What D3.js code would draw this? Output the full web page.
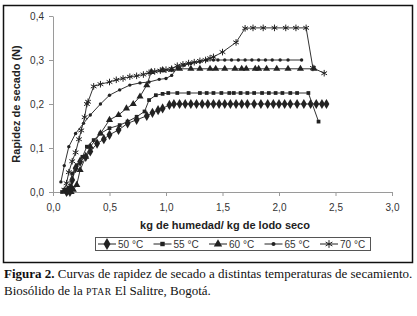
<!DOCTYPE html>
<html><head><meta charset="utf-8">
<script src="https://cdn.jsdelivr.net/npm/d3@7"></script>
<style>
html,body{margin:0;padding:0;background:#fff;}
svg{display:block;}
</style></head>
<body>
<svg id="c" width="417" height="316"></svg>
<script>
// ---- data ----
const xTicks = [0, 0.5, 1.0, 1.5, 2.0, 2.5, 3.0];
const yTicks = [0, 0.1, 0.2, 0.3, 0.4];
const seriesNames = ["50 °C", "55 °C", "60 °C", "65 °C", "70 °C"];
const s50 = [[0.12,0.0],[0.13,0.003],[0.15,0.0],[0.16,0.01],[0.17,0.027],[0.2,0.054],[0.24,0.069],[0.29,0.08],[0.33,0.092],[0.39,0.11],[0.45,0.12],[0.5,0.13],[0.58,0.141],[0.66,0.156],[0.74,0.164],[0.83,0.173],[0.88,0.18],[0.93,0.186],[0.97,0.19],[1.03,0.198],[1.07,0.2],[1.12,0.2],[1.17,0.2],[1.22,0.2],[1.27,0.2],[1.32,0.2],[1.37,0.2],[1.42,0.2],[1.47,0.2],[1.52,0.2],[1.57,0.2],[1.62,0.2],[1.67,0.2],[1.72,0.2],[1.78,0.2],[1.84,0.2],[1.9,0.2],[1.95,0.2],[2.0,0.2],[2.05,0.2],[2.1,0.2],[2.16,0.2],[2.22,0.2],[2.28,0.2],[2.33,0.2],[2.38,0.2],[2.42,0.2]];
const s55 = [[0.08,0.0],[0.1,0.005],[0.12,0.0],[0.14,0.01],[0.17,0.042],[0.21,0.061],[0.26,0.08],[0.3,0.103],[0.36,0.118],[0.42,0.133],[0.5,0.145],[0.59,0.152],[0.66,0.16],[0.74,0.171],[0.81,0.183],[0.85,0.209],[0.91,0.22],[0.97,0.223],[1.02,0.225],[1.1,0.225],[1.2,0.225],[1.3,0.225],[1.36,0.225],[1.42,0.225],[1.49,0.225],[1.56,0.225],[1.6,0.225],[1.66,0.225],[1.72,0.225],[1.78,0.225],[1.85,0.225],[1.91,0.225],[1.97,0.225],[2.03,0.225],[2.1,0.225],[2.16,0.225],[2.26,0.225],[2.35,0.16]];
const s60 = [[0.13,0.0],[0.16,0.0],[0.18,0.005],[0.21,0.016],[0.24,0.05],[0.29,0.08],[0.33,0.103],[0.42,0.133],[0.5,0.164],[0.58,0.175],[0.65,0.19],[0.71,0.2],[0.77,0.217],[0.83,0.243],[0.87,0.273],[0.97,0.277],[1.05,0.278],[1.12,0.28],[1.22,0.28],[1.3,0.28],[1.39,0.28],[1.44,0.28],[1.52,0.28],[1.61,0.28],[1.67,0.28],[1.71,0.28],[1.79,0.28],[1.82,0.28],[1.89,0.28],[1.98,0.28],[2.08,0.28],[2.19,0.28],[2.31,0.28]];
const s65 = [[0.07,0.023],[0.1,0.06],[0.14,0.103],[0.2,0.133],[0.27,0.156],[0.33,0.175],[0.42,0.2],[0.5,0.22],[0.59,0.232],[0.68,0.243],[0.77,0.248],[0.85,0.25],[0.94,0.256],[1.0,0.258],[1.05,0.265],[1.1,0.282],[1.16,0.288],[1.22,0.292],[1.3,0.296],[1.36,0.3],[1.42,0.3],[1.46,0.3],[1.52,0.3],[1.58,0.3],[1.64,0.3],[1.7,0.3],[1.76,0.3],[1.82,0.3],[1.88,0.3],[1.94,0.3],[2.01,0.3],[2.08,0.3],[2.2,0.3]];
const s70 = [[0.1,0.005],[0.12,0.02],[0.14,0.045],[0.17,0.07],[0.2,0.09],[0.23,0.12],[0.25,0.14],[0.28,0.17],[0.3,0.2],[0.31,0.205],[0.36,0.24],[0.42,0.245],[0.5,0.25],[0.56,0.255],[0.62,0.258],[0.68,0.262],[0.74,0.264],[0.8,0.267],[0.85,0.271],[0.9,0.274],[0.95,0.276],[1.0,0.278],[1.05,0.28],[1.1,0.287],[1.15,0.29],[1.2,0.293],[1.25,0.295],[1.3,0.298],[1.35,0.3],[1.39,0.304],[1.42,0.307],[1.5,0.318],[1.62,0.34],[1.7,0.372],[1.77,0.373],[1.86,0.373],[1.96,0.373],[2.06,0.373],[2.15,0.373],[2.24,0.373],[2.3,0.282],[2.4,0.27]];

const series = [s50, s55, s60, s65, s70];
const symbols = [d3.symbolDiamond, d3.symbolSquare, d3.symbolTriangle, d3.symbolCircle, d3.symbolAsterisk];
const symSizes = [30, 14, 22, 9, 30];

const svg = d3.select("#c");
const sans = "'Liberation Sans', Arial, sans-serif";
const serif = "'Liberation Serif', 'Times New Roman', serif";

// frame
svg.append("rect").attr("x",3.5).attr("y",5.5).attr("width",409).attr("height",257)
  .attr("fill","none").attr("stroke","#111").attr("stroke-width",1.5);

const x = d3.scaleLinear().domain([0,3]).range([53,392]);
const y = d3.scaleLinear().domain([0,0.4]).range([192,16]);
const fmt = d => d3.format(".1f")(d).replace(".", ",");

const gx = svg.append("g").attr("transform","translate(0,192)")
  .call(d3.axisBottom(x).tickValues(xTicks).tickFormat(fmt).tickSize(4).tickSizeOuter(0));
const gy = svg.append("g").attr("transform","translate(53,0)")
  .call(d3.axisLeft(y).tickValues(yTicks).tickFormat(fmt).tickSize(4).tickSizeOuter(0));
[gx, gy].forEach(g => {
  g.selectAll("path,line").attr("stroke","#9a9a9a");
  g.selectAll("text").attr("font-family",sans).attr("font-size",10).attr("fill","#333");
});
gx.selectAll("text").attr("dy","1.2em");
gy.selectAll("text").attr("dx","-0.2em");

// axis titles
svg.append("text").attr("x",225).attr("y",229).attr("text-anchor","middle")
  .attr("font-family",sans).attr("font-size",11).attr("font-weight","bold").attr("fill","#222")
  .text("kg de humedad/ kg de lodo seco");
svg.append("text").attr("transform","translate(20,104) rotate(-90)").attr("text-anchor","middle")
  .attr("font-family",sans).attr("font-size",11).attr("font-weight","bold").attr("fill","#222")
  .text("Rapidez de secado (N)");

// series
const line = d3.line().x(d => x(d[0])).y(d => y(d[1]));
series.forEach((s, i) => {
  const g = svg.append("g");
  g.append("path").attr("d", line(s)).attr("fill","none").attr("stroke","#333").attr("stroke-width",1);
  const sym = d3.symbol().type(symbols[i]).size(symSizes[i]);
  g.selectAll("path.m").data(s).join("path").attr("class","m")
    .attr("transform", d => `translate(${x(d[0])},${y(d[1])})`)
    .attr("d", sym)
    .attr("fill", i === 4 ? "none" : "#222")
    .attr("stroke", i === 4 ? "#222" : "none")
    .attr("stroke-width", 1);
});

// legend
svg.append("rect").attr("x",95.5).attr("y",237.5).attr("width",275).attr("height",13)
  .attr("fill","#fff").attr("stroke","#555").attr("stroke-width",1);
const legX = d3.scalePoint().domain(seriesNames).range([98, 320]);
seriesNames.forEach((n, i) => {
  const lx = legX(n);
  const g = svg.append("g").attr("transform",`translate(${lx},244)`);
  g.append("line").attr("x1",0).attr("x2",18).attr("stroke","#222").attr("stroke-width",1);
  g.append("path").attr("transform","translate(9,0)").attr("d", d3.symbol().type(symbols[i]).size(symSizes[i]*1.4))
    .attr("fill", i === 4 ? "none" : "#222").attr("stroke", i === 4 ? "#222" : "none");
  g.append("text").attr("x",20).attr("y",3.5).attr("font-family",sans).attr("font-size",10).attr("fill","#333").text(n);
});

// caption
const cap = svg.append("text").attr("x",4).attr("y",278).attr("font-family",serif).attr("font-size",13).attr("fill","#111");
cap.append("tspan").attr("font-weight","bold").text("Figura 2.");
cap.append("tspan").text(" Curvas de rapidez de secado a distintas temperaturas de secamiento.");
const cap2 = svg.append("text").attr("x",4).attr("y",295).attr("font-family",serif).attr("font-size",13).attr("fill","#111");
cap2.append("tspan").text("Biosólido de la ");
cap2.append("tspan").attr("font-size",9.5).attr("letter-spacing",0.5).text("PTAR");
cap2.append("tspan").text(" El Salitre, Bogotá.");
</script>
</body></html>
